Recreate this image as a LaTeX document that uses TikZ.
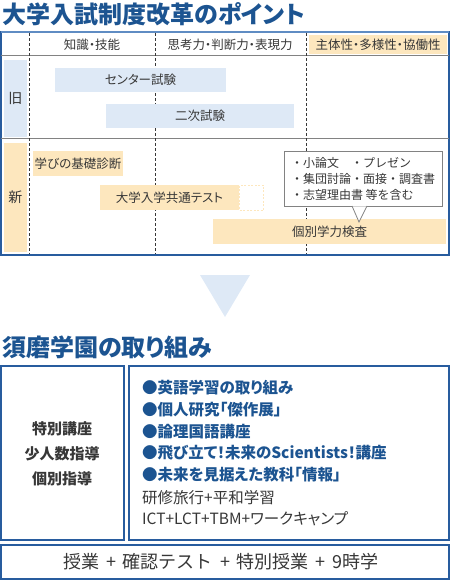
\documentclass[tikz,border=0pt]{standalone}
\usepackage{fontspec}
\setmainfont{Noto Sans CJK JP}[RawFeature=+palt]
\newfontfamily\jpwide{Noto Sans CJK JP}
\usepackage{xcolor}
\usepackage{tikz}
\usetikzlibrary{positioning,arrows.meta,calc}
\definecolor{smblue}{RGB}{28,84,145}
\definecolor{smframe}{RGB}{40,92,158}
\definecolor{smtop}{RGB}{95,140,195}
\definecolor{smlight}{RGB}{222,233,246}
\definecolor{smorange}{RGB}{253,231,190}
\definecolor{smtext}{RGB}{55,55,55}
\definecolor{smgrid}{RGB}{130,130,130}
\tikzset{
  heading/.style={anchor=west, inner sep=0pt, text=smblue, font=\fontsize{24}{27}\selectfont\bfseries},
  cell/.style={inner sep=0pt, text=smtext, font=\fontsize{12.5}{14}\selectfont},
  oldbar/.style={cell, fill=smlight, minimum height=24pt},
  newbar/.style={cell, fill=smorange, minimum height=25pt},
  rowlabel/.style={cell, fill=smlight, minimum width=23pt, font=\fontsize{14}{16}\selectfont},
  gridline/.style={draw=smgrid, line width=1pt},
  colsep/.style={draw=smtext, line width=0.8pt, dash pattern=on 3pt off 2pt},
  panel/.style={draw=smframe, line width=1.2pt, fill=white},
  item/.style={anchor=west, inner sep=0pt, text=smblue, font=\fontsize{15.5}{17}\selectfont\bfseries},
  plainitem/.style={anchor=west, inner sep=0pt, text=smtext, font=\fontsize{15.5}{17}\selectfont},
}
\newcommand\plusgap{\hspace{7pt}+\hspace{7pt}}

\begin{document}
\begin{tikzpicture}[x=1pt,y=-1pt]
  \useasboundingbox (0,0) rectangle (450,580);

  % part 1: the reform table
  \node[heading] (title1) at (2,14) {大学入試制度改革のポイント};

  \draw[smframe, line width=1.5pt] (1,32) rectangle (449,255);
  \draw[smtop, line width=2pt] (1,32) -- (449,32);
  \draw[gridline] (1,56) -- (449,56);
  \draw[gridline] (1,139) -- (449,139);
  \foreach \cx in {29.5,155,306}
    \draw[colsep] (\cx,33) -- (\cx,254);

  \node[cell] (knowledge) at (92,44.5) {知識・技能};
  \node[cell] (thinking) at (230,44.5) {思考力・判断力・表現力};
  \node[cell, fill=smorange, minimum width=138pt, minimum height=19pt] (attitude) at (378,44.5) {主体性・多様性・協働性};

  \node[rowlabel, fill=smlight, minimum height=77pt] (old) at (15.5,98.5) {旧};
  \node[oldbar, minimum width=171pt] (center) at (140.5,80) {センター試験};
  \node[oldbar, minimum width=188pt] (second) at (200,116) {二次試験};

  \node[rowlabel, fill=smorange, minimum height=109pt] (new) at (15.5,197.5) {新};
  \node[newbar, minimum width=90pt] (basic) at (78,163.5) {学びの基礎診断};
  \node[newbar, minimum width=139pt] (common) at (169.5,197.5) {大学入学共通テスト};
  \node[cell, draw=smorange, line width=1pt, dash pattern=on 2pt off 1.5pt, minimum width=24pt, minimum height=25pt, right=0pt of common] (later) {};
  \node[newbar, minimum width=233pt] (individual) at (329.5,231.5) {個別学力検査};

  \node[cell, draw=smgrid, line width=0.8pt, fill=white, minimum width=158pt, minimum height=55pt,
        align=left, font=\jpwide\fontsize{12}{16}\selectfont] (note) at (363,178.5)
    {・小論文　・プレゼン\\・集団討論・面接・調査書\\・志望理由書 等を含む};
  \coordinate (tip) at (359,222);
  \fill[white] ([xshift=-7pt]note.south -| tip) -- (tip) -- ([xshift=8pt]note.south -| tip) -- cycle;
  \draw[smgrid, line width=0.8pt] ([xshift=-7pt,yshift=0.4pt]note.south -| tip) -- (tip) -- ([xshift=8pt,yshift=0.4pt]note.south -| tip);

  % arrow down
  \fill[smlight] (200,275) -- (250,275) -- (225,317) -- cycle;

  % part 2: school programme
  \node[heading] (title2) at (2,347) {須磨学園の取り組み};

  \draw[panel] (1,366) rectangle (124,540);
  \draw[panel] (129,366) rectangle (449,540);
  \draw[panel] (1,545) rectangle (449,579);

  \node[cell, font=\fontsize{15}{17}\selectfont\bfseries] (lecture) at (62,429) {特別講座};
  \node[cell, font=\fontsize{15}{17}\selectfont\bfseries, below=10pt of lecture] (small) {少人数指導};
  \node[cell, font=\fontsize{15}{17}\selectfont\bfseries, below=10pt of small] (tutor) {個別指導};

  \node[item] (eng) at (142,388) {●英語学習の取り組み};
  \node[item] (res) at (142,410) {●個人研究「傑作展」};
  \node[item] (logic) at (142,431.5) {●論理国語講座};
  \node[item] (sci) at (142,453) {●飛び立て！未来のScientists！講座};
  \node[item] (info) at (142,475) {●未来を見据えた教科「情報」};
  \node[plainitem] (trip) at (142,497.5) {研修旅行+平和学習};
  \node[plainitem] (ict) at (142,519) {ICT+LCT+TBM+ワークキャンプ};

  \node[cell, font=\jpwide\fontsize{18}{20}\selectfont] (daily) at (221,562) {授業\plusgap 確認テスト\plusgap 特別授業\plusgap 9時学};
\end{tikzpicture}
\end{document}
